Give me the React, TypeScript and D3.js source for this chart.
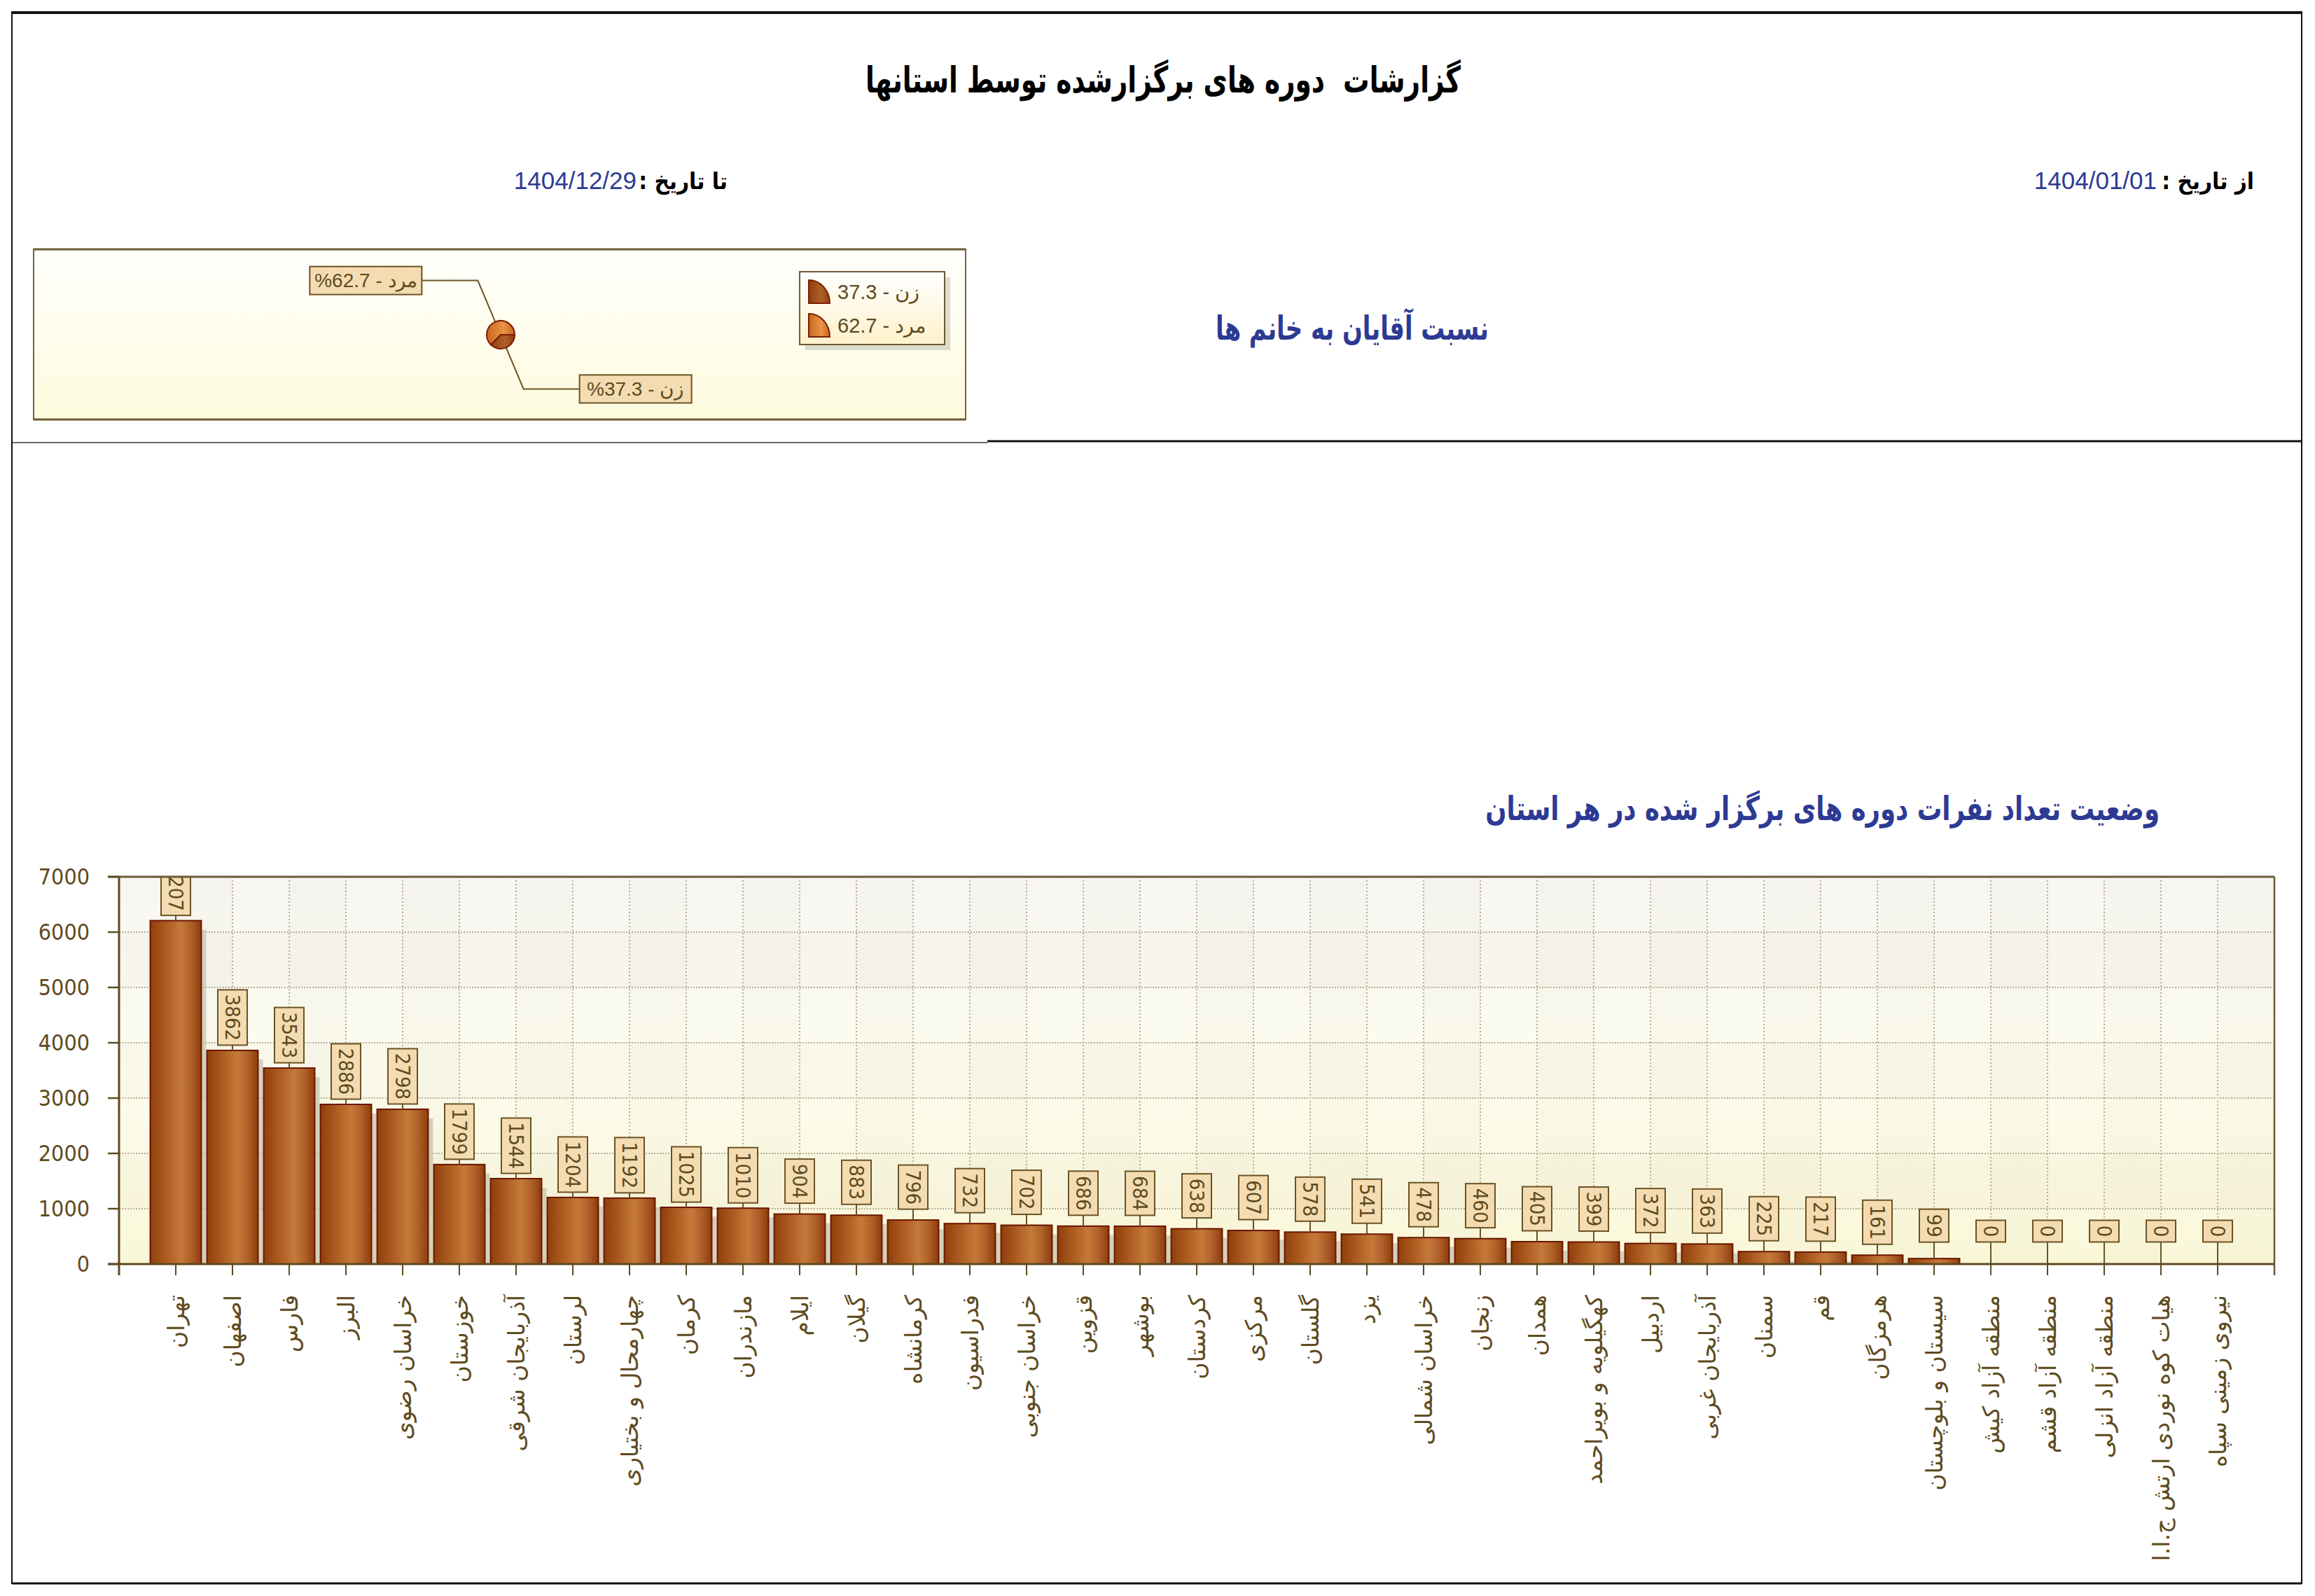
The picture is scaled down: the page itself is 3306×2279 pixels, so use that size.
import { scaleLinear, pie, arc, PieArcDatum } from "d3";

const provinces = [
  "تهران", "اصفهان", "فارس", "البرز", "خراسان رضوی", "خوزستان", "آذربایجان شرقی",
  "لرستان", "چهارمحال و بختیاری", "کرمان", "مازندران", "ایلام", "گیلان", "کرمانشاه",
  "فدراسیون", "خراسان جنوبی", "قزوین", "بوشهر", "کردستان", "مرکزی", "گلستان", "یزد",
  "خراسان شمالی", "زنجان", "همدان", "کهگیلویه و بویراحمد", "اردبیل", "آذربایجان غربی",
  "سمنان", "قم", "هرمزگان", "سیستان و بلوچستان", "منطقه آزاد کیش", "منطقه آزاد قشم",
  "منطقه آزاد انزلی", "هیات کوه نوردی ارتش ج.ا.ا", "نیروی زمینی سپاه",
];
const participants = [
  6207, 3862, 3543, 2886, 2798, 1799, 1544, 1204, 1192, 1025, 1010, 904, 883, 796,
  732, 702, 686, 684, 638, 607, 578, 541, 478, 460, 405, 399, 372, 363, 225, 217,
  161, 99, 0, 0, 0, 0, 0,
];
const yTicks = [0, 1000, 2000, 3000, 4000, 5000, 6000, 7000];
const genderNames = ["زن", "مرد"];
const genderShares = [37.3, 62.7];

const reportTitle = "گزارشات  دوره های برگزارشده توسط استانها";
const fromLabel = "از تاریخ :";
const fromDate = "1404/01/01";
const toLabel = "تا تاریخ :";
const toDate = "1404/12/29";
const pieTitle = "نسبت آقایان به خانم ها";
const barTitle = "وضعیت تعداد نفرات دوره های برگزار شده در هر استان";

const W = 3306;
const H = 2279;
const brown = "#5e4b20";
const blue = "#2d3a94";
const arabic = "'DejaVu Sans', sans-serif";
const narrow = "'DejaVu Sans Condensed', 'DejaVu Sans', sans-serif";
const arial = "'Liberation Sans', Arial, sans-serif";

type Gender = { name: string; share: number };

function BarChart() {
  const plot = { left: 170, right: 3248, top: 1252, bottom: 1805 };
  const x = scaleLinear().domain([0, provinces.length + 1]).range([plot.left, plot.right]);
  const y = scaleLinear().domain([0, 7000]).range([plot.bottom, plot.top]);
  const step = x(1) - x(0);
  const barW = step * 0.9;
  const cols = Array.from({ length: provinces.length + 1 }, (_, k) => k);

  return (
    <g>
      <defs>
        <linearGradient id="plotBg" x1="0" y1="0" x2="0" y2="1">
          <stop offset="0%" stopColor="#f7f6f2" />
          <stop offset="50%" stopColor="#fdfcee" />
          <stop offset="100%" stopColor="#faf7d8" />
        </linearGradient>
        <linearGradient id="barGrad" x1="0" y1="0" x2="1" y2="0">
          <stop offset="0%" stopColor="#8e3f0b" />
          <stop offset="25%" stopColor="#a9561c" />
          <stop offset="60%" stopColor="#c47a3a" />
          <stop offset="80%" stopColor="#b0602a" />
          <stop offset="100%" stopColor="#8c3d0b" />
        </linearGradient>
        <clipPath id="plotClip">
          <rect x={plot.left} y={plot.top} width={plot.right - plot.left} height={plot.bottom - plot.top} />
        </clipPath>
      </defs>

      <rect x={plot.left} y={plot.top} width={plot.right - plot.left} height={plot.bottom - plot.top} fill="url(#plotBg)" />
      {yTicks.slice(0, -1).map((t, i) =>
        i % 2 === 1 ? (
          <rect key={"hb" + t} x={plot.left} y={y(yTicks[i + 1])} width={plot.right - plot.left}
            height={y(t) - y(yTicks[i + 1])} fill="#7a6a40" opacity={0.025} />
        ) : null
      )}
      {cols.map((k) =>
        k % 2 === 1 ? (
          <rect key={"vb" + k} x={x(k)} y={plot.top} width={step} height={plot.bottom - plot.top}
            fill="#7a6a40" opacity={0.018} />
        ) : null
      )}

      {/* grid */}
      {yTicks.slice(1, -1).map((t) => (
        <line key={"gy" + t} x1={plot.left} x2={plot.right} y1={y(t)} y2={y(t)}
          stroke="#b8ae96" strokeWidth={2} strokeDasharray="2,2" />
      ))}
      {cols.slice(1).map((k) => (
        <line key={"gx" + k} x1={x(k)} x2={x(k)} y1={plot.top} y2={plot.bottom}
          stroke="#b8ae96" strokeWidth={2} strokeDasharray="2,3" />
      ))}

      {/* bars */}
      {participants.map((v, i) => {
        const cx = x(i + 1);
        const top = y(v);
        const h = plot.bottom - top;
        if (v <= 0) return null;
        return (
          <g key={"b" + i}>
            {h > 13 && (
              <rect x={cx + barW / 2} y={top + 13} width={7} height={h - 13} fill="#c9c3ad" opacity={0.75} />
            )}
            <rect x={cx - barW / 2} y={top} width={barW} height={h} fill="url(#barGrad)"
              stroke="#6a1600" strokeWidth={2} />
          </g>
        );
      })}

      {/* value labels */}
      <g clipPath="url(#plotClip)">
        {participants.map((v, i) => {
          const cx = x(i + 1);
          const top = y(v);
          const txt = String(v);
          const boxH = txt.length * 16 + 15;
          const cy = top - 47;
          return (
            <g key={"l" + i}>
              <line x1={cx} x2={cx} y1={top} y2={cy + boxH / 2} stroke="#6b5325" strokeWidth={2} />
              <rect x={cx - 21} y={cy - boxH / 2} width={42} height={boxH} fill="#f4dcb2"
                stroke="#6b5325" strokeWidth={2} />
              <text transform={`translate(${cx},${cy}) rotate(90)`} textAnchor="middle"
                dominantBaseline="central" fontFamily={narrow} fontSize={29} fill={brown}>
                {txt}
              </text>
            </g>
          );
        })}
      </g>

      {/* frame and axes */}
      <line x1={plot.left - 16} x2={plot.right} y1={plot.top} y2={plot.top} stroke="#6b5a35" strokeWidth={3} />
      <line x1={plot.right} x2={plot.right} y1={plot.top} y2={plot.bottom + 16} stroke="#6b5a35" strokeWidth={2.5} />
      <line x1={plot.left} x2={plot.left} y1={plot.top} y2={plot.bottom + 16} stroke={brown} strokeWidth={3} />
      <line x1={plot.left - 16} x2={plot.right} y1={plot.bottom} y2={plot.bottom} stroke={brown} strokeWidth={3} />
      {yTicks.map((t) => (
        <g key={"yt" + t}>
          <line x1={plot.left - 16} x2={plot.left} y1={y(t)} y2={y(t)} stroke={brown} strokeWidth={2.5} />
          <text x={plot.left - 42} y={y(t)} textAnchor="end" dominantBaseline="central"
            fontFamily={narrow} fontSize={32} fill={brown}>
            {t}
          </text>
        </g>
      ))}
      {cols.slice(1).map((k) => (
        <line key={"xt" + k} x1={x(k)} x2={x(k)} y1={plot.bottom} y2={plot.bottom + 16} stroke={brown} strokeWidth={2} />
      ))}
      {provinces.map((p, i) => (
        <text key={"xl" + i} transform={`translate(${x(i + 1)},1849) rotate(-90)`} direction="rtl"
          textAnchor="start" dy="0.35em" fontFamily={arabic} fontSize={33} fill={brown}>
          {p}
        </text>
      ))}
    </g>
  );
}

function GenderPie() {
  const data: Gender[] = genderNames.map((name, i) => ({ name, share: genderShares[i] }));
  const cx = 715;
  const cy = 478;
  const r = 20;
  const slices = pie<Gender>()
    .sort(null)
    .value((d) => d.share)
    .startAngle(Math.PI / 2)
    .endAngle(Math.PI / 2 + 2 * Math.PI)(data);
  const slicePath = arc<PieArcDatum<Gender>>().innerRadius(0).outerRadius(r);
  const edge = arc<PieArcDatum<Gender>>().innerRadius(r).outerRadius(r);
  const elbow = arc<PieArcDatum<Gender>>().innerRadius(84).outerRadius(84);
  const fills = ["url(#womanGrad)", "url(#manGrad)"];
  const boxW = 160;
  const boxH = 40;

  return (
    <g>
      <defs>
        <linearGradient id="pieBg" x1="0" y1="0" x2="0" y2="1">
          <stop offset="0%" stopColor="#fffffd" />
          <stop offset="100%" stopColor="#fefbdd" />
        </linearGradient>
        <linearGradient id="legendBg" x1="0" y1="0" x2="0" y2="1">
          <stop offset="0%" stopColor="#ffffff" />
          <stop offset="100%" stopColor="#fff1cc" />
        </linearGradient>
        <linearGradient id="womanGrad" x1="0" y1="0" x2="1" y2="0">
          <stop offset="0%" stopColor="#8e400e" />
          <stop offset="60%" stopColor="#b0602a" />
          <stop offset="100%" stopColor="#8e400e" />
        </linearGradient>
        <linearGradient id="manGrad" x1="0" y1="0" x2="1" y2="0">
          <stop offset="0%" stopColor="#c8651f" />
          <stop offset="60%" stopColor="#ea9448" />
          <stop offset="100%" stopColor="#c8651f" />
        </linearGradient>
      </defs>
      <rect x={48} y={356} width={1331} height={243} fill="url(#pieBg)" stroke="#76623a" strokeWidth={2} />
      <line x1={48} x2={1379} y1={356} y2={356} stroke="#6b5a35" strokeWidth={3} />
      <line x1={48} x2={1379} y1={599} y2={599} stroke="#6b5a35" strokeWidth={3} />

      {slices.map((s, i) => {
        const [ex, ey] = edge.centroid(s);
        const [bx, by] = elbow.centroid(s);
        const dir = ex < 0 ? -1 : 1;
        const hx = bx + dir * 80;
        const boxX = dir < 0 ? hx - boxW : hx;
        return (
          <g key={"lead" + i}>
            <polyline points={`${cx + ex},${cy + ey} ${cx + bx},${cy + by} ${cx + hx},${cy + by}`}
              fill="none" stroke="#6b5325" strokeWidth={2} />
            <rect x={cx + boxX} y={cy + by - boxH / 2} width={boxW} height={boxH} fill="#f4dcb2"
              stroke="#6b5325" strokeWidth={2} />
            <text x={cx + boxX + boxW / 2} y={cy + by} textAnchor="middle" dominantBaseline="central"
              fontFamily={arial} fontSize={28} fill={brown}>
              {`%${s.data.share} - ${s.data.name}`}
            </text>
          </g>
        );
      })}
      <g transform={`translate(${cx},${cy})`}>
        {slices.map((s, i) => (
          <path key={"sl" + i} d={slicePath(s) ?? ""} fill={fills[i]} stroke="#7a1d00" strokeWidth={2} />
        ))}
      </g>

      {/* legend */}
      <rect x={1150} y={396} width={207} height={104} fill="#d6d3c6" opacity={0.8} />
      <rect x={1142} y={388} width={207} height={104} fill="url(#legendBg)" stroke="#6b5a35" strokeWidth={2} />
      {data.map((d, i) => (
        <g key={"lg" + i} transform={`translate(1155,${400 + i * 48})`}>
          <path d="M0,33 L0,0 A30,33 0 0 1 30,33 Z" fill={fills[i]} stroke="#7a1d00" strokeWidth={2} />
          <text x={41} y={17} dominantBaseline="central" fontFamily={arial} fontSize={29} fill={brown}>
            {`${d.share} - ${d.name}`}
          </text>
        </g>
      ))}
    </g>
  );
}

export default function App() {
  return (
    <svg width={W} height={H} viewBox={`0 0 ${W} ${H}`}
      style={{ position: "absolute", left: 0, top: 0, background: "#fff" }}>
      {/* page frame */}
      <rect x={17} y={17} width={3270} height={2244} fill="#fff" stroke="#111" strokeWidth={2} />
      <line x1={17} x2={3287} y1={18} y2={18} stroke="#111" strokeWidth={4} />
      <line x1={17} x2={1410} y1={632} y2={632} stroke="#333" strokeWidth={1.5} />
      <line x1={1410} x2={3287} y1={630} y2={630} stroke="#111" strokeWidth={3} />
      <line x1={17} x2={3287} y1={2261} y2={2261} stroke="#111" strokeWidth={3} />

      {/* header */}
      <g transform="translate(1661,132) scale(0.72,1)">
        <text textAnchor="middle" fontFamily={arabic} fontWeight="bold" fontSize={52}
          fill="#000" style={{ whiteSpace: "pre" }} direction="rtl">
          {reportTitle}
        </text>
      </g>
      <text x={3219} y={270} direction="rtl" textAnchor="start" fontFamily={narrow} fontWeight="bold"
        fontSize={33} fill="#000">
        {fromLabel}
      </text>
      <text x={3080} y={270} textAnchor="end" fontFamily={arial} fontSize={35} fill={blue}>
        {fromDate}
      </text>
      <text x={1039} y={270} direction="rtl" textAnchor="start" fontFamily={narrow} fontWeight="bold"
        fontSize={33} fill="#000">
        {toLabel}
      </text>
      <text x={909} y={270} textAnchor="end" fontFamily={arial} fontSize={35} fill={blue}>
        {toDate}
      </text>

      <g transform="translate(1931,468) scale(0.8,1)">
        <text textAnchor="middle" dominantBaseline="central" direction="rtl"
          fontFamily={narrow} fontWeight="bold" fontSize={47} fill={blue}>
          {pieTitle}
        </text>
      </g>
      <g transform="translate(3084,1155) scale(0.84,1)">
        <text textAnchor="start" dominantBaseline="central" direction="rtl"
          fontFamily={narrow} fontWeight="bold" fontSize={47} fill={blue}>
          {barTitle}
        </text>
      </g>

      <GenderPie />
      <BarChart />
    </svg>
  );
}
